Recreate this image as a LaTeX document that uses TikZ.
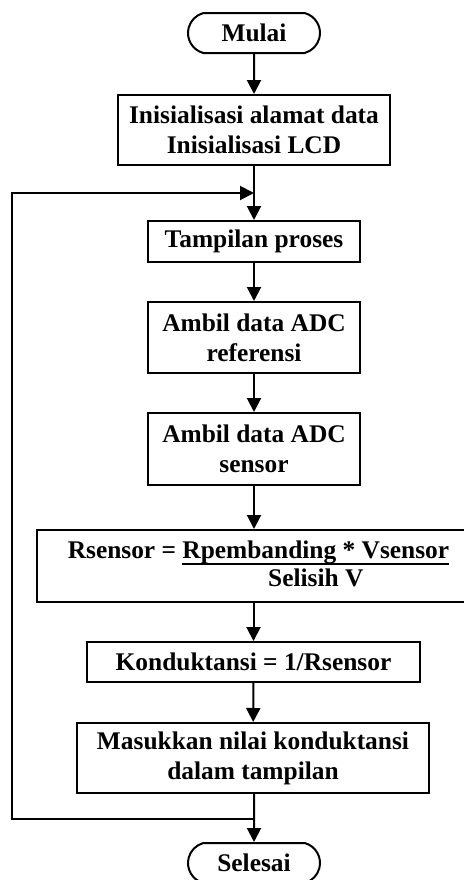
\documentclass[tikz,border=0pt]{standalone}
\usepackage{fontspec}
\setmainfont{Liberation Serif}
\usetikzlibrary{shapes.misc,arrows.meta}

\begin{document}
\begin{tikzpicture}[x=0.5pt, y=-0.5pt,
    proses/.style={draw, line width=1pt, font=\fontsize{12.7}{15}\selectfont\bfseries, align=center, inner sep=0pt},
    terminal/.style={proses, rounded rectangle, rounded rectangle arc length=150, minimum width=66pt, minimum height=20pt},
    panah/.style={line width=1pt, -{Triangle[length=7pt,width=7pt]}}]
    \useasboundingbox (0,0) rectangle (464,880);
    % mulai
    \node[terminal] (mulai) at (254,33) {Mulai};
    % inisialisasi
    \node[proses, minimum width=136pt, minimum height=35pt] (inisial) at (254,130) {Inisialisasi alamat data\\Inisialisasi LCD};
    % tampilan dan ambil data
    \node[proses, minimum width=106pt, minimum height=20.5pt] (tampil) at (254,241.5) {Tampilan proses};
    \node[proses, minimum width=106pt, minimum height=35.5pt] (adcref) at (254,337.5) {Ambil data ADC\\referensi};
    \node[proses, minimum width=106pt, minimum height=36pt] (adcsens) at (254,449) {Ambil data ADC\\sensor};
    % hitung Rsensor
    \node[proses, minimum width=221.5pt, minimum height=36pt] (rsensor) at (258.5,566)
        {\setlength\arrayrulewidth{1pt}Rsensor = \begin{tabular}[t]{@{}c@{}}Rpembanding * Vsensor\\[-2pt]\hline Selisih V\end{tabular}};
    \node[proses, minimum width=166.5pt, minimum height=20pt] (kondukt) at (253.5,662) {Konduktansi = 1/Rsensor};
    \node[proses, minimum width=176pt, minimum height=35pt] (masukkan) at (253,758) {Masukkan nilai konduktansi\\dalam tampilan};
    % selesai
    \node[terminal] (selesai) at (254,863) {Selesai};

    \coordinate (atas) at (254,193);
    \coordinate (bawah) at (254,819);

    \draw[panah] (mulai) -- (inisial);
    \draw[panah] (inisial) -- (tampil);
    \draw[panah] (tampil) -- (adcref);
    \draw[panah] (adcref) -- (adcsens);
    \draw[panah] (adcsens) -- (adcsens |- rsensor.north);
    \draw[panah] (rsensor.south -| kondukt) -- (kondukt);
    \draw[panah] (kondukt) -- (masukkan);
    \draw[panah] (masukkan.south -| selesai) -- (selesai);
    % kembali ke atas
    \draw[panah] (bawah) -- ++(-242,0) |- (atas);
\end{tikzpicture}
\end{document}
